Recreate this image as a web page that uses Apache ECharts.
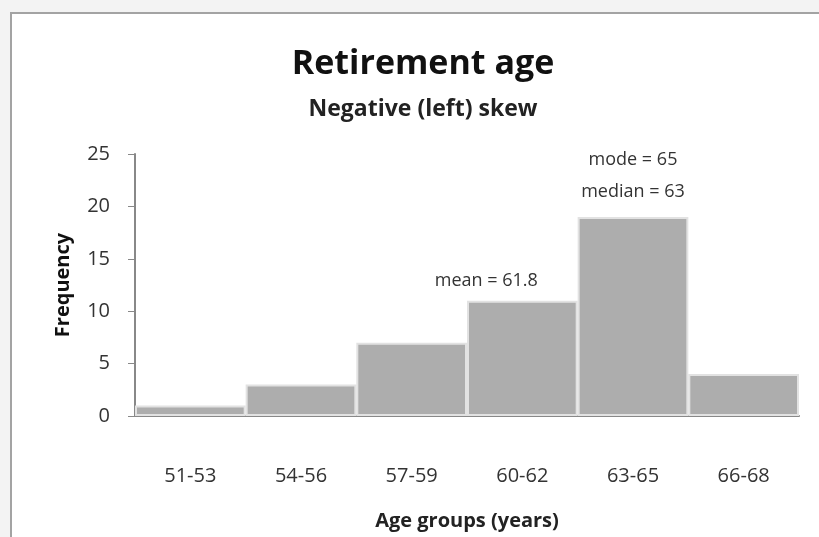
<!DOCTYPE html>
<html>
<head>
<meta charset="utf-8">
<script src="https://cdn.jsdelivr.net/npm/echarts@6/dist/echarts.min.js"></script>
<style>
  html, body { margin: 0; padding: 0; background: #f3f3f3; }
  .frame {
    position: absolute; left: 10px; top: 12px; width: 809px; height: 525px;
    background: #fff; border-top: 2px solid #a3a3a3; border-left: 2px solid #a3a3a3;
  }
  #main { position: absolute; left: 0; top: 0; width: 819px; height: 537px; }
</style>
</head>
<body>
<div class="frame"></div>
<div id="main"></div>
<script>
  // age groups and how many people retired in each
  const ageGroups = ['51-53', '54-56', '57-59', '60-62', '63-65', '66-68']
  const frequency = [1, 3, 7, 11, 19, 4]
  const notes = ['', '', '', 'mean = 61.8', 'mode = 65\nmedian = 63', '']
  const yTicks = [0, 5, 10, 15, 20, 25]

  const font = '"Open Sans", "Noto Sans", sans-serif'
  let myChart = echarts.init(document.getElementById('main'))

  let option = {
    backgroundColor: 'transparent',
    animation: false,
    title: {
      text: 'Retirement age',
      subtext: 'Negative (left) skew',
      left: 418,
      top: 42,
      textAlign: 'center',
      itemGap: 17,
      textStyle: { fontFamily: font, fontSize: 34, fontWeight: 'bold', color: '#111' },
      subtextStyle: { fontFamily: font, fontSize: 23, fontWeight: 'bold', color: '#222' }
    },
    grid: { left: 135, right: 20, top: 154, height: 262 },
    xAxis: {
      type: 'category',
      data: ageGroups,
      name: 'Age groups (years)',
      nameLocation: 'middle',
      nameGap: 95,
      nameTextStyle: { fontFamily: font, fontSize: 20, fontWeight: 'bold', color: '#222' },
      axisLine: { lineStyle: { color: '#888', width: 2 } },
      axisTick: { show: false },
      axisLabel: { fontFamily: font, fontSize: 20, color: '#333', margin: 50 }
    },
    yAxis: {
      type: 'value',
      min: yTicks[0],
      max: yTicks[yTicks.length - 1],
      interval: 5,
      name: 'Frequency',
      nameLocation: 'middle',
      nameGap: 62,
      nameTextStyle: { fontFamily: font, fontSize: 20, fontWeight: 'bold', color: '#111' },
      axisLine: { show: true, lineStyle: { color: '#888', width: 2 } },
      axisTick: { show: true, length: 7, lineStyle: { color: '#888', width: 1 } },
      splitLine: { show: false },
      axisLabel: { fontFamily: font, fontSize: 20, color: '#333', margin: 25 }
    },
    series: [
      {
        type: 'bar',
        data: frequency.map((v, i) => ({
          value: v,
          label: notes[i] ? {
            show: true,
            position: 'top',
            formatter: notes[i],
            offset: i === 3 ? [-36, 0] : [0, 0],
            distance: 9,
            lineHeight: i === 3 ? 22 : 32
          } : { show: false }
        })),
        barCategoryGap: 0,
        barGap: 0,
        itemStyle: { color: '#adadad', borderColor: '#e2e2e2', borderWidth: 2 },
        label: { fontFamily: font, fontSize: 18, color: '#333' }
      }
    ]
  }

  myChart.setOption(option)
</script>
</body>
</html>
